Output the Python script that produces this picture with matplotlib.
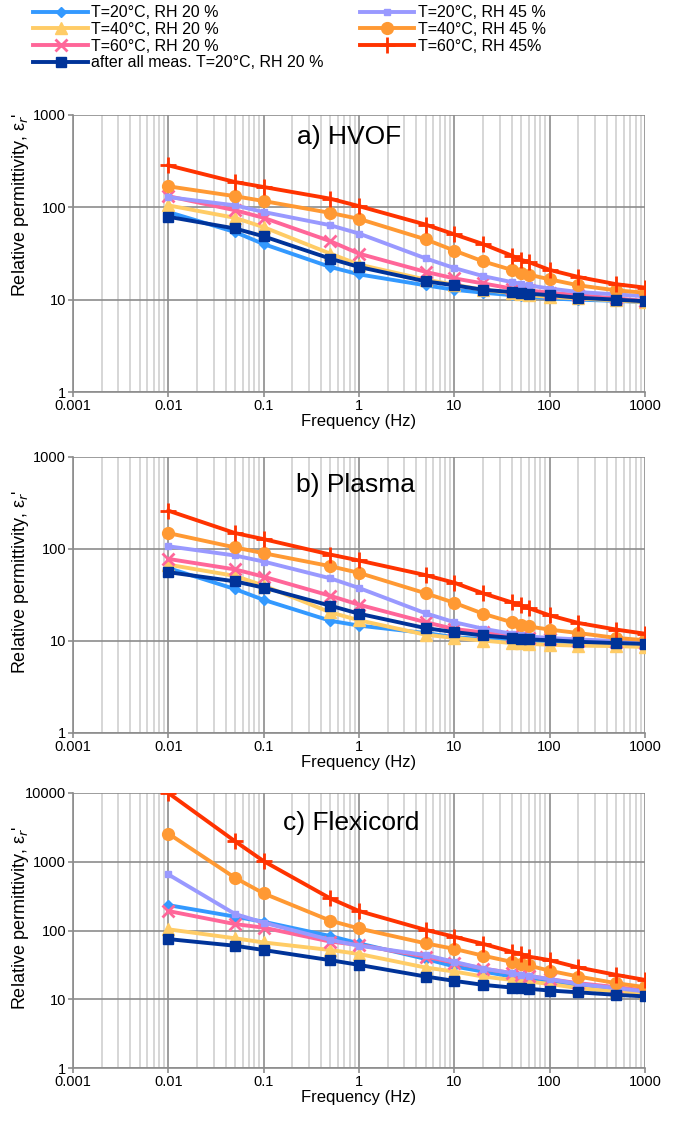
import numpy as np
import matplotlib
matplotlib.use("Agg")
import matplotlib.pyplot as plt
from matplotlib.ticker import LogLocator, FixedLocator, NullFormatter, FixedFormatter

plt.rcParams['font.family'] = ['Liberation Sans', 'DejaVu Sans']

freq = [0.01, 0.05, 0.1, 0.5, 1, 5, 10, 20, 40, 50, 60, 100, 200, 500, 1000]

labels = ["T=20°C, RH 20 %", "T=40°C, RH 20 %", "T=60°C, RH 20 %",
          "after all meas. T=20°C, RH 20 %",
          "T=20°C, RH 45 %", "T=40°C, RH 45 %", "T=60°C, RH 45%"]

# a) HVOF
hvof_t20_rh20 = [89, 54, 40, 22.6, 18.8, 14.3, 12.8, 11.9, 11.2, 11.0, 10.9, 10.3, 10.0, 9.7, 9.4]
hvof_t40_rh20 = [105, 77, 61, 31.5, 24, 16.5, 14.5, 12.8, 11.8, 11.4, 11.2, 10.7, 10.3, 9.8, 9.4]
hvof_t60_rh20 = [132, 93, 77, 43, 31.5, 20, 17, 15, 13.2, 12.8, 12.6, 11.9, 11.2, 10.3, 9.7]
hvof_after = [79, 59, 48.5, 27.8, 22.6, 15.8, 14.3, 12.8, 12.1, 11.8, 11.6, 11.2, 10.5, 10.0, 9.6]
hvof_t20_rh45 = [129, 105, 89, 64, 52, 28, 22, 18, 15.5, 14.9, 14.3, 13.2, 12.1, 11.4, 10.9]
hvof_t40_rh45 = [169, 132, 117, 87, 75, 45, 34, 26, 21, 19.5, 18.7, 16.6, 14.3, 12.6, 11.9]
hvof_t60_rh45 = [285, 188, 166, 124, 103, 65, 51, 40, 30, 27, 25.6, 21, 17.6, 14.7, 13.5]

# b) Plasma
plasma_t20_rh20 = [62, 36.7, 28, 16.6, 14.7, 12.2, 11, 10.5, 10.2, 10.1, 10, 9.7, 9.5, 9.4, 9.2]
plasma_t40_rh20 = [67.6, 51, 40, 20.5, 16.8, 11.7, 10.8, 10.1, 9.5, 9.4, 9.3, 9.1, 8.9, 8.8, 8.6]
plasma_t60_rh20 = [78, 60, 50, 31, 24.8, 16, 13.5, 12.4, 11.2, 11.0, 10.9, 10.5, 10.1, 9.7, 9.4]
plasma_after = [56, 44.5, 38, 24.2, 19.8, 13.8, 12.5, 11.5, 10.8, 10.5, 10.4, 10.2, 9.8, 9.5, 9.3]
plasma_t20_rh45 = [107, 85, 73, 48, 37.7, 20, 16, 13.6, 12, 11.6, 11.2, 10.8, 10.4, 10, 9.7]
plasma_t40_rh45 = [149, 104, 90, 65, 55, 33, 26, 19.8, 16, 15, 14.4, 13.3, 12.2, 10.8, 10.2]
plasma_t60_rh45 = [261, 149, 128, 87, 75, 52, 43, 33, 26.3, 24.4, 22.8, 19, 15.7, 13.3, 12]

# c) Flexicord
flex_t20_rh20 = [234, 159, 134, 83, 65, 38.6, 30, 25.3, 21.4, 20.2, 19.6, 18.1, 16.2, 14.5, 13]
flex_t40_rh20 = [104, 77, 67, 52, 45.6, 28.9, 25.3, 21.4, 19.1, 18.7, 18.1, 16.7, 14.5, 13, 12.3]
flex_t60_rh20 = [192, 124, 110, 69, 61.6, 41.7, 34, 28, 24, 22.6, 21.9, 19.6, 17.1, 15, 13.4]
flex_after = [75, 60, 52, 37, 31.6, 21.4, 18.5, 16.2, 14.8, 14.5, 14.2, 13.4, 12.6, 11.6, 11]
flex_t20_rh45 = [653, 174, 130, 73, 60, 44, 35, 28, 24, 22.6, 21.9, 19.6, 16.7, 14.5, 13]
flex_t40_rh45 = [2570, 585, 346, 139, 107, 65, 54, 43, 35, 32.7, 31, 26, 21.4, 17.1, 15]
flex_t60_rh45 = [10000, 1990, 1020, 293, 192, 102, 81, 64, 49, 45.6, 41.7, 37, 29, 22.6, 19.1]

panels = [
    ("a) HVOF", [hvof_t20_rh20, hvof_t40_rh20, hvof_t60_rh20, hvof_after,
                 hvof_t20_rh45, hvof_t40_rh45, hvof_t60_rh45], 1000),
    ("b) Plasma", [plasma_t20_rh20, plasma_t40_rh20, plasma_t60_rh20, plasma_after,
                   plasma_t20_rh45, plasma_t40_rh45, plasma_t60_rh45], 1000),
    ("c) Flexicord", [flex_t20_rh20, flex_t40_rh20, flex_t60_rh20, flex_after,
                      flex_t20_rh45, flex_t40_rh45, flex_t60_rh45], 10000),
]

colors = ['#3399FF', '#FFCC66', '#FF6699', '#003399', '#9999FF', '#FF9933', '#FF3300']
markers = ['D', '^', 'x', 's', 's', 'o', '+']
msizes = [5, 8, 8, 7.5, 5, 8.5, 11]
# drawing order: back to front
zorder = [3, 4, 5, 9, 6, 7, 8]

fig = plt.figure(figsize=(6.78, 11.22), dpi=100)
W, H = 678, 1122
boxes = [(73, 115, 645, 392), (73, 457, 645, 733), (73, 793, 645, 1068)]
title_pos = [(349, 137), (356, 485), (351, 823)]
ylabel_y = [205, 582, 918]

handles = []
for i, ((title, series, ytop), (x0, y0, x1, y1)) in enumerate(zip(panels, boxes)):
    ax = fig.add_axes([x0 / W, 1 - y1 / H, (x1 - x0) / W, (y1 - y0) / H])
    for k, vals in enumerate(series):
        mew = 2 if markers[k] in ('x', '+') else 1
        ln, = ax.plot(freq, vals, color=colors[k], lw=2.8, marker=markers[k],
                      ms=msizes[k], mew=mew, mec=colors[k], zorder=zorder[k],
                      label=labels[k])
        if i == 0:
            handles.append(ln)
    ax.set_xscale('log')
    ax.set_yscale('log')
    ax.set_xlim(0.001, 1000)
    ax.set_ylim(1, ytop)
    ax.xaxis.set_major_locator(FixedLocator([0.001, 0.01, 0.1, 1, 10, 100, 1000]))
    ax.xaxis.set_major_formatter(FixedFormatter(['0.001', '0.01', '0.1', '1', '10', '100', '1000']))
    ax.xaxis.set_minor_locator(LogLocator(base=10, subs=np.arange(2, 10), numticks=20))
    ax.xaxis.set_minor_formatter(NullFormatter())
    yt = [10 ** n for n in range(int(np.log10(ytop)) + 1)]
    ax.yaxis.set_major_locator(FixedLocator(yt))
    ax.yaxis.set_major_formatter(FixedFormatter([str(v) for v in yt]))
    ax.yaxis.set_minor_locator(FixedLocator([]))
    ax.grid(True, which='major', color='#8c8c8c', lw=1.2, zorder=0)
    ax.grid(True, which='minor', axis='x', color='#d0d0d0', lw=1.2, zorder=0)
    ax.set_axisbelow(True)
    for s in ['top', 'right']:
        ax.spines[s].set_visible(False)
    for s in ['left', 'bottom']:
        ax.spines[s].set_color('#8c8c8c')
        ax.spines[s].set_linewidth(1.2)
    ax.tick_params(which='major', length=3.5, width=1.2, color='#8c8c8c', labelsize=10.5,
                   direction='out', pad=1.5)
    ax.tick_params(which='minor', length=0)
    ax.set_xlabel("Frequency (Hz)", fontsize=12, labelpad=1)
    fig.text(21 / W, 1 - ylabel_y[i] / H, "Relative permittivity, ε$_r$'", fontsize=13,
             rotation=90, ha='center', va='center')
    tx, ty = title_pos[i]
    fig.text(tx / W, 1 - ty / H, title, fontsize=19, ha='center', va='center')

fig.legend(handles=handles, loc='upper left', bbox_to_anchor=(27 / W, 1 + 1 / H),
           ncol=2, frameon=False, fontsize=11.5, handlelength=3.4, columnspacing=2.3,
           labelspacing=0.1, handletextpad=0.2, borderaxespad=0)

fig.savefig("out.png", dpi=100)
